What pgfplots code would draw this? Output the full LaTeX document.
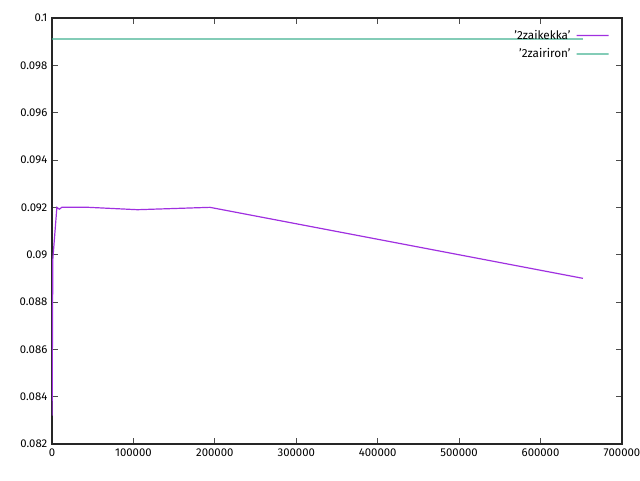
\documentclass[border=0pt]{standalone}
\usepackage{pgfplots}
\pgfplotsset{compat=1.18}
\usepackage{fontspec}
\setmainfont{Fira Sans}
\definecolor{gpviolet}{HTML}{A030E0}
\definecolor{gpgreen}{HTML}{40B090}
\begin{document}
\begin{tikzpicture}[x=1pt,y=1pt]
\begin{axis}[
  scale only axis,
  width=427.5pt, height=319.5pt,
  xmin=0, xmax=700000, ymin=0.082, ymax=0.1,
  xtick={0,100000,...,700000},
  ytick={0.082,0.084,0.086,0.088,0.09,0.092,0.094,0.096,0.098,0.1},
  scaled ticks=false,
  tick align=inside,
  tick pos=both,
  major tick length=4.5pt,
  tick style={black!70, line width=0.6pt},
  axis line style={black!85, line width=0.8pt},
  xticklabel style={/pgf/number format/.cd, fixed, 1000 sep={}, assume math mode=true},
  yticklabel style={/pgf/number format/.cd, fixed, precision=3, assume math mode=true},
  every tick label/.append style={font=\fontsize{8.5}{10}\selectfont, text=black},
  legend style={draw=none, fill=none, at={(0.985,0.985)}, anchor=north east,
    font=\fontsize{8.8}{10}\selectfont, row sep=1.5pt,
    nodes={inner xsep=4pt}},
  legend cell align=right,
  legend plot pos=right,
  legend image code/.code={\draw[#1] (0pt,0pt) -- (12pt,0.01pt) -- (24pt,0pt);},
]
\addplot[draw=gpviolet, line width=0.9pt] coordinates {
  (100,0.0832) (1000,0.0898) (6000,0.0920) (9000,0.09192)
  (12000,0.0920) (45000,0.0920) (105000,0.0919) (194000,0.0920) (652000,0.0890)
};
\addlegendentry{'2zaikekka'}
\addplot[draw=gpgreen, line width=0.9pt] coordinates {
  (0,0.09911) (326000,0.099112) (652000,0.09911)
};
\addlegendentry{'2zairiron'}
\end{axis}
\pgfresetboundingbox
\path (current axis.south west) ++(-39pt,-27pt) rectangle ++(480pt,360pt);
\end{tikzpicture}
\end{document}
